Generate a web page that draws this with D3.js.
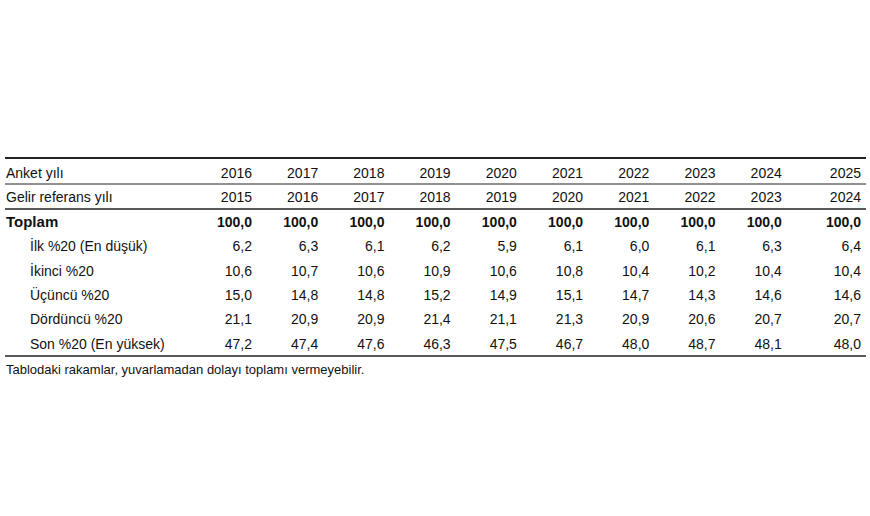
<!DOCTYPE html>
<html>
<head>
<meta charset="UTF-8">
<script src="https://cdn.jsdelivr.net/npm/d3@7"></script>
<style>
  body { margin: 0; background: #fff; }
  text { font-family: "Liberation Sans", Arial, sans-serif; font-size: 14px; fill: #111; }
</style>
</head>
<body>
<div id="vis"></div>
<script>
var surveyYears = ["2016", "2017", "2018", "2019", "2020", "2021", "2022", "2023", "2024", "2025"];
var refYears = ["2015", "2016", "2017", "2018", "2019", "2020", "2021", "2022", "2023", "2024"];
var rowLabels = ["Toplam", "İlk %20 (En düşük)", "İkinci %20", "Üçüncü %20", "Dördüncü %20", "Son %20 (En yüksek)"];
var total = [100.0, 100.0, 100.0, 100.0, 100.0, 100.0, 100.0, 100.0, 100.0, 100.0];
var q1 = [6.2, 6.3, 6.1, 6.2, 5.9, 6.1, 6.0, 6.1, 6.3, 6.4];
var q2 = [10.6, 10.7, 10.6, 10.9, 10.6, 10.8, 10.4, 10.2, 10.4, 10.4];
var q3 = [15.0, 14.8, 14.8, 15.2, 14.9, 15.1, 14.7, 14.3, 14.6, 14.6];
var q4 = [21.1, 20.9, 20.9, 21.4, 21.1, 21.3, 20.9, 20.6, 20.7, 20.7];
var q5 = [47.2, 47.4, 47.6, 46.3, 47.5, 46.7, 48.0, 48.7, 48.1, 48.0];
var note = "Tablodaki rakamlar, yuvarlamadan dolayı toplamı vermeyebilir.";

var width = 870, height = 516;
var svg = d3.select("#vis").append("svg").attr("width", width).attr("height", height);

var fmt = function(v) { return v.toFixed(1).replace(".", ","); };

// column right edges
var x = d3.scalePoint().domain(surveyYears).range([252, 848]);
var colRight = function(i) { return i === surveyYears.length - 1 ? 861 : x(surveyYears[i]); };

var rows = [
  {label: "Anket yılı", vals: surveyYears, bold: false, indent: 0},
  {label: "Gelir referans yılı", vals: refYears, bold: false, indent: 0},
  {label: rowLabels[0], vals: total.map(fmt), bold: true, indent: 0},
  {label: rowLabels[1], vals: q1.map(fmt), bold: false, indent: 24},
  {label: rowLabels[2], vals: q2.map(fmt), bold: false, indent: 24},
  {label: rowLabels[3], vals: q3.map(fmt), bold: false, indent: 24},
  {label: rowLabels[4], vals: q4.map(fmt), bold: false, indent: 24},
  {label: rowLabels[5], vals: q5.map(fmt), bold: false, indent: 24}
];
var y = d3.scaleLinear().domain([0, 7]).range([173, 344]);

var g = svg.selectAll(".row").data(rows).enter().append("g")
  .attr("transform", function(d, i) { return "translate(0," + y(i) + ")"; });

g.append("text").attr("x", function(d) { return 6 + d.indent; }).attr("dy", "0.35em")
  .style("font-weight", function(d) { return d.bold ? "bold" : "normal"; })
  .style("font-size", function(d) { return d.bold ? "15px" : "14px"; })
  .text(function(d) { return d.label; });

g.selectAll(".v").data(function(d) { return d.vals.map(function(v) { return {v: v, bold: d.bold}; }); })
  .enter().append("text")
  .attr("x", function(d, i) { return colRight(i); })
  .attr("dy", "0.35em").attr("text-anchor", "end")
  .style("font-weight", function(d) { return d.bold ? "bold" : "normal"; })
  .text(function(d) { return d.v; });

var lines = [[158, 2], [184, 1], [209, 1.3], [356, 1.5]];
svg.selectAll(".rule").data(lines).enter().append("line")
  .attr("x1", 5).attr("x2", 866)
  .attr("y1", function(d) { return d[0]; }).attr("y2", function(d) { return d[0]; })
  .attr("stroke", "#222").attr("stroke-width", function(d) { return d[1]; });

svg.append("text").attr("x", 6).attr("y", 369).attr("dy", "0.35em")
  .style("font-size", "13px").text(note);
</script>
</body>
</html>
